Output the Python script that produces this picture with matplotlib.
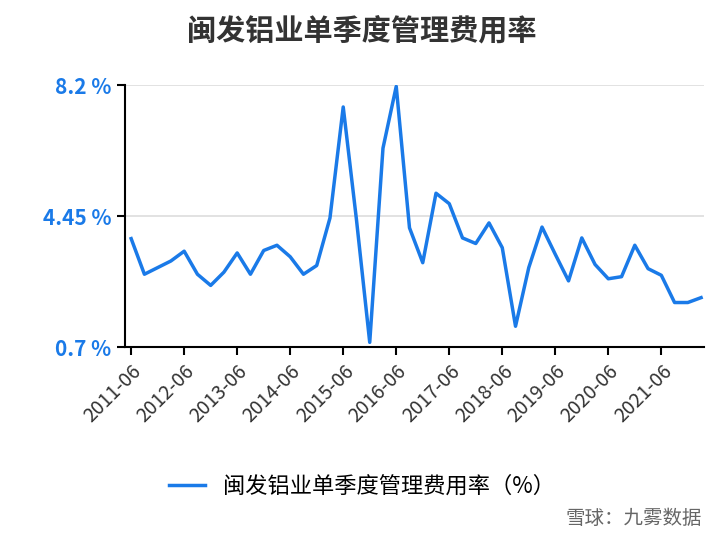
import matplotlib.pyplot as plt

plt.rcParams['font.family'] = ['Noto Sans CJK SC', 'DejaVu Sans']

quarters = []
for y in range(2011, 2023):
    for m in ["03", "06", "09", "12"]:
        quarters.append(f"{y}-{m}")
quarters = quarters[quarters.index("2011-06"):quarters.index("2022-03") + 1]

rates = [3.81, 2.79, 2.98, 3.17, 3.45, 2.79, 2.47, 2.85, 3.40, 2.79, 3.47, 3.62,
         3.29, 2.79, 3.04, 4.40, 7.58, 4.35, 0.84, 6.40, 8.17, 4.12, 3.12, 5.11,
         4.81, 3.83, 3.67, 4.26, 3.55, 1.30, 2.98, 4.14, 3.36, 2.60, 3.83, 3.07,
         2.66, 2.72, 3.62, 2.95, 2.76, 1.98, 1.98, 2.12]
yticks = [0.7, 4.45, 8.2]
ytick_labels = ["0.7 %", "4.45 %", "8.2 %"]

fig = plt.figure(figsize=(7.24, 5.4), dpi=100)
ax = fig.add_axes([0.172, 0.357, 0.8, 0.485])
x = list(range(len(quarters)))
line, = ax.plot(x, rates, color="#1a7ae8", linewidth=2.5, label="闽发铝业单季度管理费用率（%）")

ax.set_ylim(0.7, 8.2)
ax.set_xlim(-0.5, len(quarters) - 0.8)
ax.set_yticks(yticks)
ax.set_yticklabels(ytick_labels, color="#1a7ae8", fontsize=15, fontweight="bold")
ax.grid(axis="y", color="#dddddd", linewidth=1.2)
ax.set_axisbelow(True)

ax.set_xticks(x[::4])
ax.set_xticklabels(quarters[::4], rotation=45, ha="right", rotation_mode="anchor",
                   fontsize=14, color="#333333")
ax.tick_params(axis="x", length=6, width=1.5)
ax.tick_params(axis="y", length=6, width=1.5)
for s in ["top", "right"]:
    ax.spines[s].set_visible(False)
ax.spines["left"].set_linewidth(1.5)
ax.spines["bottom"].set_linewidth(1.5)

fig.text(0.5, 0.925, "闽发铝业单季度管理费用率", ha="center", fontsize=21,
         fontweight="bold", color="#333333")
fig.legend(handles=[line], loc="center", bbox_to_anchor=(0.5, 0.1), frameon=False,
           fontsize=16, handlelength=1.6)
fig.text(0.97, 0.03, "雪球：九雾数据", ha="right", fontsize=14, color="#666666")

fig.savefig("out.png", dpi=100)
